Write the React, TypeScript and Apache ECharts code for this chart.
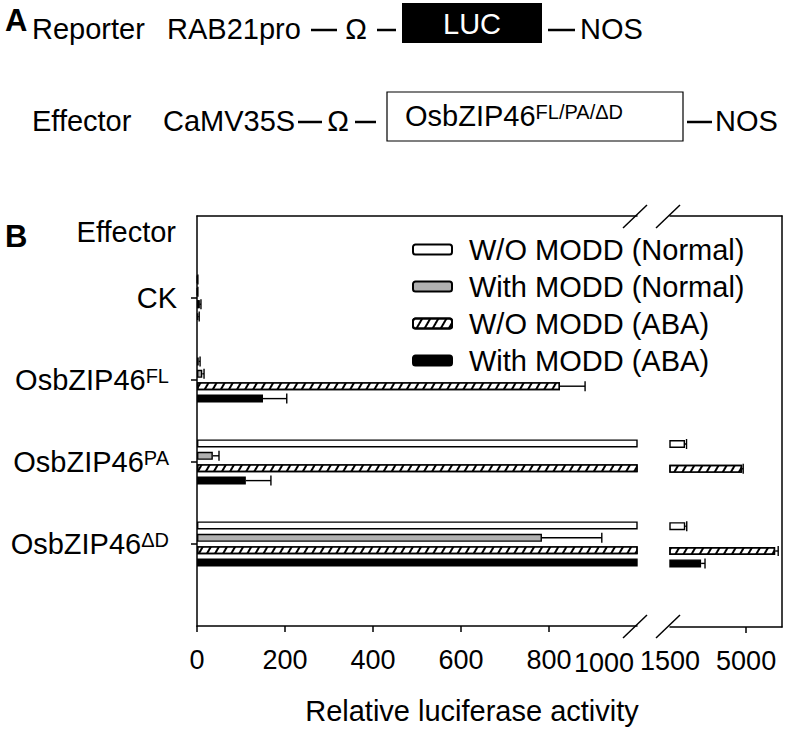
import React, { useEffect, useRef } from 'react';
import * as echarts from 'echarts';

// ---- data ----
const categories = ['CK', 'OsbZIP46FL', 'OsbZIP46PA', 'OsbZIP46ΔD'];
const seriesNames = ['W/O MODD (Normal)', 'With MODD (Normal)', 'W/O MODD (ABA)', 'With MODD (ABA)'];
const woNormal = [1, 4, 2190, 2200];
const woNormalErr = [1, 3, 70, 70];
const withNormal = [1, 12, 36, 784];
const withNormalErr = [1, 4, 14, 136];
const woABA = [6, 825, 4816, 6335];
const woABAErr = [3, 57, 50, 140];
const withABA = [3, 150, 111, 2930];
const withABAErr = [2, 54, 57, 180];
const axis1TickValues = [0, 200, 400, 600, 800];
const axis1LabelValues = [0, 200, 400, 600, 800];
const axis1BreakLabel = '1000';
const axis2TickValues = [5000];
const axis2LabelValues = [1500, 5000];

const FONT = '"Liberation Sans", Arial, Helvetica, sans-serif';
const BAR_W = 8;
const BAR_GAP = 0.55;
const STEP = BAR_W * (1 + BAR_GAP);

const values = [woNormal, withNormal, woABA, withABA];
const errors = [woNormalErr, withNormalErr, woABAErr, withABAErr];
const fills = ['#ffffff', '#b0b0b0', '#ffffff', '#000000'];

const yData = ['', ...categories, ''];

function labelFmt(v: string) {
  if (v.startsWith('OsbZIP46')) {
    const sup = v.slice(8);
    return sup ? `OsbZIP46{sup|${sup}}` : v;
  }
  return v;
}

export default function App() {
  const ref = useRef<HTMLDivElement>(null);
  useEffect(() => {
    if (!ref.current) return;
    const chart = echarts.init(ref.current, undefined, { renderer: 'svg' });

    const barSeries: any[] = [];
    [0, 1].forEach((g) => {
      values.forEach((vals, k) => {
        const s: any = {
          type: 'bar',
          name: seriesNames[k],
          xAxisIndex: g,
          yAxisIndex: g,
          barWidth: BAR_W,
          barGap: `${BAR_GAP * 100}%`,
          clip: true,
          data: vals.map((v, i) => [v, categories[i]]),
          itemStyle: { color: fills[k], borderColor: '#000', borderWidth: 1.4 },
        };
        if (k === 2) {
          s.itemStyle.decal = {
            symbol: 'rect',
            symbolSize: 1,
            dashArrayX: [1, 0],
            dashArrayY: [2, 4.5],
            rotation: -Math.PI / 3,
            color: '#000',
            backgroundColor: '#fff',
          };
        }
        barSeries.push(s);
      });
    });

    const errSeries = [0, 1].map((g) => ({
      type: 'custom',
      name: 'err' + g,
      xAxisIndex: g,
      yAxisIndex: g,
      silent: true,
      data: values.flatMap((vals, k) => vals.map((v, i) => [v, errors[k][i], i + 1, k])),
      encode: { x: 0, y: 2 },
      renderItem: (params: any, api: any) => {
        const v = api.value(0);
        const e = api.value(1);
        const ci = api.value(2);
        const k = api.value(3);
        const ok = g === 0 ? v + e <= 1000 : v >= 1500;
        if (!ok) return { type: 'group', children: [] };
        const p0 = api.coord([v, ci]);
        const p1 = api.coord([v + e, ci]);
        const y = p0[1] + (k - 1.5) * STEP;
        const st = { stroke: '#000', lineWidth: 1.4 };
        return {
          type: 'group',
          children: [
            { type: 'line', shape: { x1: p0[0], y1: y, x2: p1[0], y2: y }, style: st },
            { type: 'line', shape: { x1: p1[0], y1: y - 5, x2: p1[0], y2: y + 5 }, style: st },
          ],
        };
      },
    }));

    const axisLine = { show: true, lineStyle: { color: '#000', width: 1.5 } };
    const txt = (text: string, x: number, y: number, extra: any = {}) => ({
      type: 'text',
      x,
      y,
      style: { text, fontFamily: FONT, fontSize: 29, fill: '#000', verticalAlign: 'middle', ...extra },
    });
    const hline = (x1: number, x2: number, y: number) => ({
      type: 'line',
      shape: { x1, y1: y, x2, y2: y },
      style: { stroke: '#000', lineWidth: 2.5 },
    });
    const slash = (x1: number, y1: number, x2: number, y2: number) => ({
      type: 'line',
      shape: { x1, y1, x2, y2 },
      style: { stroke: '#000', lineWidth: 1.5 },
    });

    chart.setOption({
      animation: false,
      backgroundColor: '#fff',
      textStyle: { fontFamily: FONT },
      grid: [
        { left: 197, top: 216, width: 440, height: 411 },
        { left: 670, top: 216, width: 112, height: 411 },
      ],
      legend: {
        orient: 'vertical',
        left: 407,
        top: 230,
        itemWidth: 39,
        itemHeight: 10,
        itemGap: 8,
        data: seriesNames,
        textStyle: { fontSize: 29, lineHeight: 29, color: '#000', fontFamily: FONT, padding: [0, 0, 0, 12] },
        selectedMode: false,
      },
      xAxis: [
        {
          type: 'value',
          gridIndex: 0,
          min: 0,
          max: 1000,
          interval: 200,
          axisLine,
          splitLine: { show: false },
          axisTick: { show: true, inside: false, length: 6, customValues: axis1TickValues, lineStyle: { color: '#000', width: 1.5 } },
          axisLabel: {
            customValues: axis1LabelValues,
            fontSize: 27,
            color: '#000',
            margin: 20,
            formatter: (v: number) => String(v),
          },
          name: 'Relative luciferase activity',
          nameLocation: 'middle',
          nameGap: 70,
          nameTextStyle: { fontSize: 29, color: '#000', padding: [0, 0, 0, 110] },
        },
        {
          type: 'value',
          gridIndex: 1,
          min: 1500,
          max: 6650,
          axisLine,
          splitLine: { show: false },
          axisTick: { show: true, inside: false, length: 6, customValues: axis2TickValues, lineStyle: { color: '#000', width: 1.5 } },
          axisLabel: { customValues: axis2LabelValues, fontSize: 27, color: '#000', margin: 20, formatter: (v: number) => String(v) },
        },
        {
          type: 'value',
          gridIndex: 0,
          position: 'top',
          min: 0,
          max: 1000,
          axisLine,
          axisTick: { show: false },
          axisLabel: { show: false },
          splitLine: { show: false },
        },
        {
          type: 'value',
          gridIndex: 1,
          position: 'top',
          min: 1500,
          max: 6650,
          axisLine,
          axisTick: { show: false },
          axisLabel: { show: false },
          splitLine: { show: false },
        },
      ],
      yAxis: [
        {
          type: 'category',
          gridIndex: 0,
          data: yData,
          inverse: true,
          boundaryGap: false,
          axisLine,
          axisTick: {
            show: true,
            inside: false,
            length: 6,
            interval: (_i: number, v: string) => v !== '',
            lineStyle: { color: '#000', width: 1.5 },
          },
          axisLabel: {
            interval: 0,
            margin: 20,
            fontSize: 29,
            color: '#000',
            formatter: labelFmt,
            rich: { sup: { fontSize: 20, color: '#000', verticalAlign: 'top', padding: [0, 8, 0, 0] } },
          },
          splitLine: { show: false },
        },
        {
          type: 'category',
          gridIndex: 1,
          data: yData,
          inverse: true,
          boundaryGap: false,
          position: 'right',
          axisLine,
          axisTick: { show: false },
          axisLabel: { show: false },
          splitLine: { show: false },
        },
      ],
      series: [...barSeries, ...errSeries],
      graphic: [
        txt('A', 5, 20, { fontSize: 31, fontWeight: 'bold' }),
        txt('Reporter', 32, 29),
        txt('RAB21pro', 167, 29),
        hline(311, 337, 30),
        txt('Ω', 356, 29, { align: 'center' }),
        hline(377, 396, 30),
        { type: 'rect', shape: { x: 402, y: 3, width: 140, height: 40 }, style: { fill: '#000' } },
        txt('LUC', 472, 24, { align: 'center', fill: '#fff' }),
        hline(548, 575, 30),
        txt('NOS', 580, 29),
        txt('Effector', 32, 121),
        txt('CaMV35S', 163, 121),
        hline(298, 322, 122),
        txt('Ω', 338, 121, { align: 'center' }),
        hline(355, 376, 122),
        { type: 'rect', shape: { x: 387, y: 92, width: 296, height: 49 }, style: { fill: '#fff', stroke: '#000', lineWidth: 1.2 } },
        txt('OsbZIP46{sup|FL/PA/ΔD}', 405, 116, { rich: { sup: { fontSize: 20, fill: '#000', verticalAlign: 'top' } } }),
        hline(687, 712, 122),
        txt('NOS', 715, 121),
        txt('B', 5, 236, { fontSize: 31, fontWeight: 'bold' }),
        txt('Effector', 176, 232, { align: 'right' }),
        txt(axis1BreakLabel, 604, 663, { align: 'center', fontSize: 27 }),
        slash(623, 228, 647, 205),
        slash(656, 228, 680, 205),
        slash(623, 638, 647, 615),
        slash(656, 638, 680, 615),
      ],
    });
    return () => chart.dispose();
  }, []);
  return <div ref={ref} style={{ position: 'fixed', left: 0, top: 0, width: 789, height: 730 }} />;
}
